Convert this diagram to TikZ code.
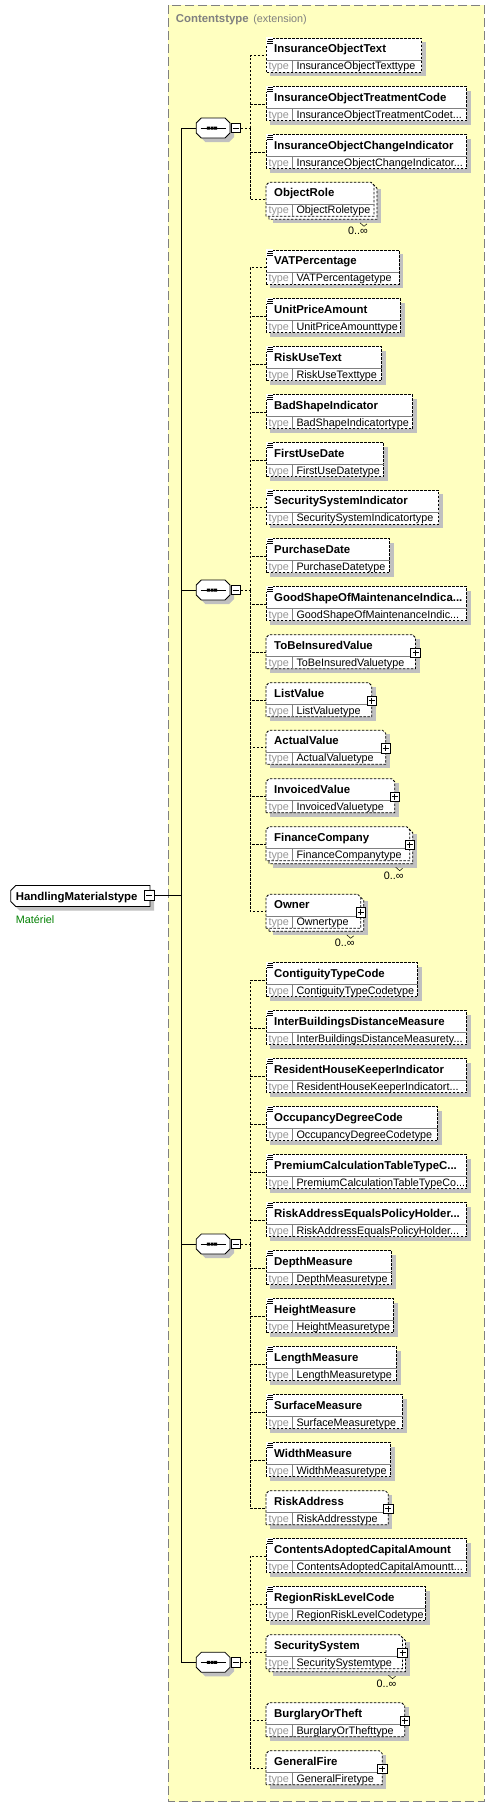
\documentclass[tikz,border=0pt]{standalone}
\usepackage{fontspec}
\setmainfont{Liberation Sans}
\usetikzlibrary{positioning}
\definecolor{schemayellow}{RGB}{255,255,192}
\definecolor{schemashadow}{RGB}{192,192,192}
\definecolor{schemagrey}{RGB}{128,128,128}
\definecolor{typegrey}{RGB}{150,150,150}
\definecolor{schemagreen}{RGB}{0,128,0}
\tikzset{
    elshadow/.style={fill=schemashadow},
    boxline/.style={draw,line width=0.8pt,dash pattern=on 2.5pt off 1.5pt},
    rowline/.style={draw=schemagrey,line width=0.7pt},
    branch/.style={line width=0.8pt,dash pattern=on 2.5pt off 1.5pt},
    trunk/.style={line width=0.9pt},
    elanchor/.style={inner sep=0pt,minimum height=34pt,anchor=north west},
    namefont/.style={font=\fontsize{11.4}{13}\selectfont\bfseries,inner sep=0pt,anchor=base west},
    typefont/.style={font=\fontsize{10.8}{12}\selectfont,inner sep=0pt,anchor=base west},
    typelabel/.style={typefont,text=typegrey},
    togglebox/.style={draw,fill=white,line width=0.8pt,minimum size=9.5pt,inner sep=0pt},
    seqnode/.style={inner sep=0pt,minimum width=33.7pt,minimum height=20pt}
}
% element box: id, top, right, name, type, chamfer
\newcommand{\elbody}[6]{%
    \draw[boxline,fill=white] (266,#2+34) -- (266,#2+#6) -- (266+#6,#2) -- (#3-#6,#2) -- (#3,#2+#6) -- (#3,#2+34) -- cycle;
    \node[elanchor,minimum width={#3-266}] (#1) at (266,#2) {};
    \draw[rowline] (266,#2+22) -- (#3,#2+22) (292.3,#2+22) -- (292.3,#2+34);
    \node[namefont] (#1-n) at (274,#2+14.5) {#4};
    \node[typelabel] (#1-k) at (268.3,#2+31.5) {type};
    \node[typefont] (#1-t) at (296.3,#2+31.5) {#5};
}
\newcommand{\plusmark}[3]{%
    \node[togglebox] (#1-p) at (#3,#2+18) {};
    \draw[line width=0.7pt] (#3-3,#2+18) -- (#3+3,#2+18) (#3,#2+15) -- (#3,#2+21);
}
\newcommand{\simpleel}[5]{%
    \fill[elshadow] (270,#2+4) rectangle (#3+4,#2+38);
    \elbody{#1}{#2}{#3}{#4}{#5}{0}
    \fill[white] (266.4,#2-1) rectangle (273,#2+5.5);
    \draw[line width=0.55pt] (267.5,#2+0.5) -- (272.5,#2+0.5) (267,#2+2.5) -- (272.5,#2+2.5) (267,#2+4.5) -- (272.5,#2+4.5);
}
\newcommand{\complexel}[5]{%
    \fill[elshadow] (270,#2+4) rectangle (#3+4,#2+38);
    \elbody{#1}{#2}{#3}{#4}{#5}{3}
    \plusmark{#1}{#2}{#3}
}
% stacked element with 0..oo, last argument 1 = with plus box
\newcommand{\manyel}[6]{%
    \fill[elshadow] (273,#2+7) rectangle (#3+7,#2+41);
    \draw[boxline,fill=white] (269,#2+37) -- (269,#2+6) -- (272,#2+3) -- (#3,#2+3) -- (#3+3,#2+6) -- (#3+3,#2+37) -- cycle;
    \elbody{#1}{#2}{#3}{#4}{#5}{3}
    \ifnum#6=1 \plusmark{#1}{#2}{#3}\fi
    \draw[line width=0.5pt] (#3-14,#2+40.5) -- (#3-10,#2+44) -- (#3-7,#2+41.5);
    \node[typefont,anchor=base] (#1-m) at (#3-16,#2+52.5) {0..∞};
}
% sequence compositor: id, centre y
\newcommand{\seqgroup}[2]{%
    \fill[elshadow] (200.3,#2-1) -- (205.3,#2-6) -- (229,#2-6) -- (234,#2-1) -- (234,#2+9) -- (229,#2+14) -- (205.3,#2+14) -- (200.3,#2+9) -- cycle;
    \node[seqnode] (#1) at (213.15,#2) {};
    \draw[line width=0.8pt,fill=white] (196.3,#2-5) -- (201.3,#2-10) -- (225,#2-10) -- (230,#2-5) -- (230,#2+5) -- (225,#2+10) -- (201.3,#2+10) -- (196.3,#2+5) -- cycle;
    \draw[line width=0.8pt] (200.7,#2) -- (226,#2);
    \fill (206.8,#2-1.5) rectangle ++(3,3) (210.5,#2-1.5) rectangle ++(3,3) (214.2,#2-1.5) rectangle ++(3,3);
    \node[togglebox] (#1-m) at (235.7,#2) {};
    \draw[line width=0.7pt] (232.7,#2) -- (238.7,#2);
}

\begin{document}
\begin{tikzpicture}[x=1pt,y=-1pt]
    \useasboundingbox (0,0) rectangle (495,1807);
    \fill[white] (0,0) rectangle (495,1807);
    % extension container
    \fill[schemayellow] (168.3,5.3) rectangle (484.3,1801.7);
    \draw[schemagrey,line width=1.2pt,dash pattern=on 9pt off 4pt] (168.3,5.3) rectangle (484.3,1801.7);
    \node[namefont,text=schemagrey] (ext-n) at (175.7,22.7) {Contentstype};
    \node[typefont,text=schemagrey,xshift=4.2pt] (ext-k) at (ext-n.base east) {(extension)};

    % root type
    \fill[elshadow] (14.7,894.5) -- (19.7,889.5) -- (154,889.5) -- (154,910.5) -- (19.7,910.5) -- (14.7,905.5) -- cycle;
    \draw[line width=0.9pt,fill=white] (10.7,890.5) -- (15.7,885.5) -- (150,885.5) -- (150,906.5) -- (15.7,906.5) -- (10.7,901.5) -- cycle;
    \node[inner sep=0pt,minimum width=139.3pt,minimum height=21pt] (root) at (80.35,896) {};
    \node[namefont] (root-n) at (15.7,900) {HandlingMaterialstype};
    \node[togglebox] (root-m) at (149.3,895.5) {};
    \draw[line width=0.7pt] (146.3,895.5) -- (152.3,895.5);
    \node[typefont,text=schemagreen] (root-doc) at (15.7,923) {Matériel};

    % compositors
    \seqgroup{seq1}{128}
    \seqgroup{seq2}{590}
    \seqgroup{seq3}{1244}
    \seqgroup{seq4}{1662.3}
    \coordinate (trunkmid) at (181.7,895.5);
    \draw[trunk] (root-m.east) -- (trunkmid);
    \draw[trunk] (seq1.west) -| (trunkmid) (seq4.west) -| (trunkmid);
    \draw[trunk] (seq2.west) -- (seq2.west -| trunkmid) (seq3.west) -- (seq3.west -| trunkmid);
    \coordinate (fork1) at (250.3,128);
    \coordinate (fork2) at (250.3,590);
    \coordinate (fork3) at (250.3,1244);
    \coordinate (fork4) at (250.3,1662.3);

    % first sequence
    \simpleel{iotext}{38.3}{421.7}{InsuranceObjectText}{InsuranceObjectTexttype}
    \simpleel{iotreat}{86.7}{466.7}{InsuranceObjectTreatmentCode}{InsuranceObjectTreatmentCodet...}
    \simpleel{iochange}{134.7}{466.7}{InsuranceObjectChangeIndicator}{InsuranceObjectChangeIndicator...}
    \manyel{objrole}{182.3}{374}{ObjectRole}{ObjectRoletype}{0}
    \draw[branch] (seq1-m.east) -- (fork1) (fork1) |- (iotext.west) (fork1) |- (iotreat.west)
        (fork1) |- (iochange.west) (fork1) |- (objrole.west);

    % second sequence
    \simpleel{vat}{250.3}{399}{VATPercentage}{VATPercentagetype}
    \simpleel{unitprice}{298.7}{400.7}{UnitPriceAmount}{UnitPriceAmounttype}
    \simpleel{riskuse}{346.7}{381.7}{RiskUseText}{RiskUseTexttype}
    \simpleel{badshape}{394.7}{412.7}{BadShapeIndicator}{BadShapeIndicatortype}
    \simpleel{firstuse}{442.7}{383.7}{FirstUseDate}{FirstUseDatetype}
    \simpleel{secind}{490.3}{438.7}{SecuritySystemIndicator}{SecuritySystemIndicatortype}
    \simpleel{purchase}{538.7}{389.7}{PurchaseDate}{PurchaseDatetype}
    \simpleel{goodshape}{586.7}{466.7}{GoodShapeOfMaintenanceIndica...}{GoodShapeOfMaintenanceIndic...}
    \complexel{tobeins}{634.7}{415.5}{ToBeInsuredValue}{ToBeInsuredValuetype}
    \complexel{listval}{682.7}{371.7}{ListValue}{ListValuetype}
    \complexel{actval}{730.3}{385.7}{ActualValue}{ActualValuetype}
    \complexel{invval}{778.7}{394.7}{InvoicedValue}{InvoicedValuetype}
    \manyel{fincomp}{826.7}{409.7}{FinanceCompany}{FinanceCompanytype}{1}
    \manyel{owner}{894.3}{360.7}{Owner}{Ownertype}{1}
    \draw[branch] (seq2-m.east) -- (fork2) (fork2) |- (vat.west) (fork2) |- (unitprice.west)
        (fork2) |- (riskuse.west) (fork2) |- (badshape.west) (fork2) |- (firstuse.west)
        (fork2) |- (secind.west) (fork2) |- (purchase.west) (fork2) |- (goodshape.west)
        (fork2) |- (tobeins.west) (fork2) |- (listval.west) (fork2) |- (actval.west)
        (fork2) |- (invval.west) (fork2) |- (fincomp.west) (fork2) |- (owner.west);

    % third sequence
    \simpleel{contig}{962.7}{417.7}{ContiguityTypeCode}{ContiguityTypeCodetype}
    \simpleel{interbuild}{1010.7}{466.7}{InterBuildingsDistanceMeasure}{InterBuildingsDistanceMeasurety...}
    \simpleel{resident}{1058.7}{466.7}{ResidentHouseKeeperIndicator}{ResidentHouseKeeperIndicatort...}
    \simpleel{occupancy}{1106.7}{437.7}{OccupancyDegreeCode}{OccupancyDegreeCodetype}
    \simpleel{premium}{1154.7}{466.7}{PremiumCalculationTableTypeC...}{PremiumCalculationTableTypeCo...}
    \simpleel{riskeq}{1202.7}{466.7}{RiskAddressEqualsPolicyHolder...}{RiskAddressEqualsPolicyHolder...}
    \simpleel{depth}{1250.7}{391.7}{DepthMeasure}{DepthMeasuretype}
    \simpleel{height}{1298.7}{393.7}{HeightMeasure}{HeightMeasuretype}
    \simpleel{length}{1346.7}{396.7}{LengthMeasure}{LengthMeasuretype}
    \simpleel{surface}{1394.7}{402.7}{SurfaceMeasure}{SurfaceMeasuretype}
    \simpleel{width}{1442.7}{390.7}{WidthMeasure}{WidthMeasuretype}
    \complexel{riskaddr}{1490.7}{388.3}{RiskAddress}{RiskAddresstype}
    \draw[branch] (seq3-m.east) -- (fork3) (fork3) |- (contig.west) (fork3) |- (interbuild.west)
        (fork3) |- (resident.west) (fork3) |- (occupancy.west) (fork3) |- (premium.west)
        (fork3) |- (riskeq.west) (fork3) |- (depth.west) (fork3) |- (height.west)
        (fork3) |- (length.west) (fork3) |- (surface.west) (fork3) |- (width.west)
        (fork3) |- (riskaddr.west);

    % fourth sequence
    \simpleel{adopted}{1538.7}{466.7}{ContentsAdoptedCapitalAmount}{ContentsAdoptedCapitalAmountt...}
    \simpleel{regionrisk}{1586.7}{425.7}{RegionRiskLevelCode}{RegionRiskLevelCodetype}
    \manyel{secsys}{1634.7}{402.5}{SecuritySystem}{SecuritySystemtype}{1}
    \complexel{burglary}{1702.7}{404.7}{BurglaryOrTheft}{BurglaryOrThefttype}
    \complexel{genfire}{1750.7}{382.3}{GeneralFire}{GeneralFiretype}
    \draw[branch] (seq4-m.east) -- (fork4) (fork4) |- (adopted.west) (fork4) |- (regionrisk.west)
        (fork4) |- (secsys.west) (fork4) |- (burglary.west) (fork4) |- (genfire.west);
\end{tikzpicture}
\end{document}
